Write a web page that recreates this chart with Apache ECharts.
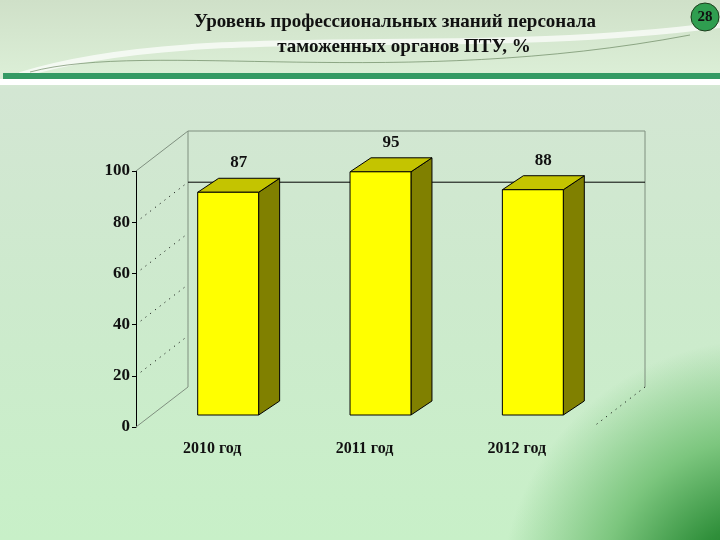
<!DOCTYPE html>
<html><head><meta charset="utf-8">
<script src="https://cdn.jsdelivr.net/npm/echarts@6/dist/echarts.min.js"></script>
<style>
html,body{margin:0;padding:0;}
#c{width:720px;height:540px;
background:
 radial-gradient(circle 260px at 760px 600px, #0a6a12 0%, #2f8f3a 30%, #7cc67e 62%, rgba(200,240,200,0) 100%),
 linear-gradient(180deg, #cfe0c8 0px, #dbeed6 72px, #d3e6d3 90px, #cdeacd 300px, #c8f0c8 540px);
}
</style>
</head><body><div id="c"></div>
<script>
const titleLines = ['Уровень профессиональных знаний персонала', 'таможенных органов ПТУ, %'];
const categories = ['2010 год', '2011 год', '2012 год'];
const values = [87, 95, 88];
const yMin = 0, yMax = 100, yStep = 20;
const refLineValue = 80;
const gridDotValues = [20, 40, 60, 80];
const pageNumber = '28';

const FONT = "'Liberation Serif', 'DejaVu Serif', serif";
const FRONT = [-16, 12];   // depth offset of front plane
const BACK = [36, -28];    // depth offset of back wall
const BAR_D = [21, -14];   // bar depth

const chart = echarts.init(document.getElementById('c'), null, {renderer: 'canvas'});

function frameRender(params, api) {
  const cs = params.coordSys;
  const L = cs.x, R = cs.x + cs.width;
  const yv = v => api.coord([0, v])[1];
  const pt = (x, v, off) => [x + off[0], yv(v) + off[1]];
  const gray = {stroke: '#7f8f7f', lineWidth: 1};
  const children = [];
  const line = (a, b, style) => children.push({type: 'line', shape: {x1: a[0], y1: a[1], x2: b[0], y2: b[1]}, style});
  line(pt(L, yMin, FRONT), pt(L, yMin, BACK), gray);
  line(pt(L, yMax, FRONT), pt(L, yMax, BACK), gray);
  line(pt(L, yMin, BACK), pt(L, yMax, BACK), gray);
  line(pt(L, yMax, BACK), pt(R, yMax, BACK), gray);
  line(pt(R, yMax, BACK), pt(R, yMin, BACK), gray);
  line(pt(R, yMin, BACK), pt(R, yMin, FRONT), {stroke: '#000', lineWidth: 1, lineDash: [1, 5]});
  line(pt(L, refLineValue, BACK), pt(R, refLineValue, BACK), {stroke: '#000', lineWidth: 1});
  gridDotValues.forEach(v => line(pt(L, v, FRONT), pt(L, v, BACK), {stroke: '#000', lineWidth: 1, lineDash: [1, 5]}));
  return {type: 'group', children};
}

function barRender(params, api) {
  const i = api.value(0), v = api.value(1);
  const base = api.coord([i, 0]);
  const top = api.coord([i, v]);
  const w = api.size([1, 0])[0] * 0.4;
  const x0 = base[0] - w / 2, x1 = base[0] + w / 2, yb = base[1], yt = top[1];
  const dx = BAR_D[0], dy = BAR_D[1];
  const edge = {stroke: '#000', lineWidth: 1};
  return {type: 'group', children: [
    {type: 'polygon', shape: {points: [[x1, yt], [x1 + dx, yt + dy], [x1 + dx, yb + dy], [x1, yb]]}, style: Object.assign({fill: '#808000'}, edge)},
    {type: 'polygon', shape: {points: [[x0, yt], [x0 + dx, yt + dy], [x1 + dx, yt + dy], [x1, yt]]}, style: Object.assign({fill: '#c4c400'}, edge)},
    {type: 'rect', shape: {x: x0, y: yt, width: w, height: yb - yt}, style: Object.assign({fill: '#ffff00'}, edge)},
    {type: 'text', style: {text: String(v), x: base[0] + dx / 2, y: yt + dy - 7, textAlign: 'center', textVerticalAlign: 'bottom', font: 'bold 17px ' + FONT, fill: '#111'}},
    {type: 'text', style: {text: categories[i], x: base[0] + FRONT[0], y: yb + FRONT[1] + 22, textAlign: 'center', textVerticalAlign: 'middle', font: 'bold 16px ' + FONT, fill: '#111'}}
  ]};
}

chart.setOption({
  backgroundColor: 'transparent',
  animation: false,
  grid: [
    {left: 152, right: 111, top: 159, bottom: 125},
    {left: 136, width: 60, top: 171, height: 256}
  ],
  xAxis: [
    {gridIndex: 0, type: 'category', data: categories, show: false},
    {gridIndex: 1, type: 'value', show: false, min: 0, max: 1}
  ],
  yAxis: [
    {gridIndex: 0, type: 'value', min: yMin, max: yMax, show: false},
    {gridIndex: 1, type: 'value', min: yMin, max: yMax, interval: yStep,
     axisLine: {show: true, lineStyle: {color: '#000', width: 1}},
     axisTick: {show: true, length: 4, lineStyle: {color: '#000'}},
     splitLine: {show: false},
     axisLabel: {margin: 6, color: '#111', fontFamily: FONT, fontWeight: 'bold', fontSize: 17}}
  ],
  series: [
    {type: 'custom', xAxisIndex: 0, yAxisIndex: 0, renderItem: frameRender, data: [[0, 0]], z: 1, silent: true},
    {type: 'custom', xAxisIndex: 0, yAxisIndex: 0, renderItem: barRender, data: values.map((v, i) => [i, v]), z: 2}
  ],
  graphic: [
    {type: 'bezierCurve', z: -1, shape: {x1: 20, y1: 75, cpx1: 200, cpy1: 20, cpx2: 450, cpy2: 60, x2: 720, y2: 25}, style: {stroke: 'rgba(255,255,255,0.7)', lineWidth: 6}},
    {type: 'bezierCurve', z: -1, shape: {x1: 30, y1: 72, cpx1: 150, cpy1: 40, cpx2: 400, cpy2: 90, x2: 690, y2: 35}, style: {stroke: 'rgba(90,120,80,0.6)', lineWidth: 1}},
    {type: 'rect', shape: {x: 3, y: 73, width: 717, height: 6}, style: {fill: '#349a64'}},
    {type: 'rect', shape: {x: 0, y: 79, width: 720, height: 6}, style: {fill: '#ffffff'}},
    {type: 'text', style: {text: titleLines[0], x: 395, y: 22, textAlign: 'center', textVerticalAlign: 'middle', font: 'bold 19px ' + FONT, fill: '#111'}},
    {type: 'text', style: {text: titleLines[1], x: 404, y: 47, textAlign: 'center', textVerticalAlign: 'middle', font: 'bold 19px ' + FONT, fill: '#111'}},
    {type: 'circle', shape: {cx: 705, cy: 17, r: 14}, style: {fill: '#2f9e50', stroke: '#1c3c1c', lineWidth: 1}},
    {type: 'text', style: {text: pageNumber, x: 705, y: 17, textAlign: 'center', textVerticalAlign: 'middle', font: 'bold 15px ' + FONT, fill: '#111'}}
  ]
});
</script>
</body></html>
